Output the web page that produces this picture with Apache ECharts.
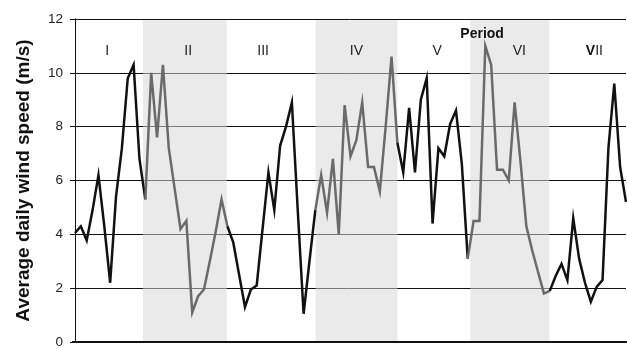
<!DOCTYPE html>
<html>
<head>
<meta charset="utf-8">
<script src="https://cdn.jsdelivr.net/npm/echarts@6/dist/echarts.min.js"></script>
<style>
html,body{margin:0;padding:0;background:#fff;}
#main{width:627px;height:349px;}
</style>
</head>
<body>
<div id="main"></div>
<script>
// Average daily wind speed (m/s), one value per day
const windSpeed = [
  4.05, 4.3, 3.77, 4.9, 6.2, 4.3, 2.2, 5.4, 7.2, 9.8, 10.3, 6.8,
  5.3, 10.0, 7.6, 10.3, 7.2, 5.7, 4.2, 4.5, 1.1, 1.7, 1.95, 3.0, 4.1, 5.3,
  4.3, 3.7, 2.5, 1.3, 1.95, 2.1, 4.2, 6.3, 4.9, 7.3, 8.0, 8.9, 4.9, 1.05, 3.0,
  4.9, 6.2, 4.8, 6.8, 4.0, 8.8, 6.9, 7.5, 8.9, 6.5, 6.5, 5.6, 8.0, 10.6,
  7.4, 6.3, 8.7, 6.3, 9.0, 9.8, 4.4, 7.2, 6.9, 8.1, 8.6, 6.6,
  3.1, 4.5, 4.5, 11.0, 10.3, 6.4, 6.4, 6.0, 8.9, 6.7, 4.3, 3.4, 2.6, 1.8,
  1.9, 2.45, 2.9, 2.3, 4.6, 3.1, 2.2, 1.5, 2.05, 2.3, 7.2, 9.6, 6.5, 5.2
];
// index of the first and last day of each period (shared boundary days)
const periodBreaks = [0, 12, 26, 41, 55, 67, 81, 94];
const periodNames = ['I', 'II', 'III', 'IV', 'V', 'VI', 'VII'];
// shaded periods (II, IV, VI) extents in day units
const shadedBands = [[11.6, 25.9], [41.05, 55.0], [67.45, 80.9]];
const yTicks = [0, 2, 4, 6, 8, 10, 12];

const labelX = [5.5, 19.3, 32.1, 48.0, 61.8, 75.8, 88.6];
const labelY = 10.8;

const chart = echarts.init(document.getElementById('main'), null, {renderer: 'canvas'});

const periodSeries = [];
for (let p = 0; p < periodNames.length; p++) {
  const pts = [];
  for (let i = periodBreaks[p]; i <= periodBreaks[p + 1]; i++) {
    pts.push([i, windSpeed[i]]);
  }
  periodSeries.push({
    type: 'line',
    data: pts,
    symbol: 'none',
    z: 5,
    lineStyle: {width: 2.5, color: p % 2 === 0 ? '#111' : '#6a6a6a', join: 'miter', cap: 'butt'},
    silent: true,
    animation: false
  });
}

const labelData = periodNames.map((n, k) => ({
  coord: [labelX[k], labelY],
  value: n,
  label: {
    formatter: n === 'VII' ? '{b|V}II' : n
  }
}));
labelData.push({
  coord: [69.45, 11.42],
  value: 'Period',
  label: {formatter: 'Period', fontWeight: 'bold', fontSize: 14, color: '#111'}
});

const bandSeries = {
  type: 'line',
  data: [],
  z: 1,
  silent: true,
  animation: false,
  markArea: {
    silent: true,
    itemStyle: {color: 'rgba(214,214,214,0.52)'},
    data: shadedBands.map(b => [{coord: [b[0], 0.04]}, {coord: [b[1], 11.95]}])
  }
};

const labelSeries = {
  type: 'line',
  data: [],
  z: 6,
  silent: true,
  animation: false,
  markPoint: {
    symbol: 'circle',
    symbolSize: 0,
    silent: true,
    animation: false,
    label: {
      show: true,
      position: 'inside',
      color: '#222',
      fontSize: 14,
      fontFamily: 'Liberation Sans, Arial, sans-serif',
      rich: {b: {fontWeight: 'bold', fontSize: 14, color: '#111', fontFamily: 'Liberation Sans, Arial, sans-serif'}}
    },
    data: labelData
  }
};

chart.setOption({
  animation: false,
  textStyle: {fontFamily: 'Liberation Sans, Arial, sans-serif'},
  grid: {left: 73, right: 1, top: 19, bottom: 4, containLabel: false},
  xAxis: [{
    type: 'value',
    min: -0.34,
    max: 94,
    axisLine: {show: true, onZero: false, lineStyle: {color: '#111', width: 2}},
    axisTick: {show: false},
    axisLabel: {show: false},
    splitLine: {show: false}
  }, {
    type: 'value',
    position: 'top',
    min: -0.34,
    max: 94,
    axisLine: {show: true, lineStyle: {color: '#111', width: 2}},
    axisTick: {show: false},
    axisLabel: {show: false},
    splitLine: {show: false}
  }],
  yAxis: [{
    type: 'value',
    min: yTicks[0],
    max: yTicks[yTicks.length - 1],
    interval: 2,
    name: 'Average daily wind speed (m/s)',
    nameLocation: 'middle',
    nameGap: 40,
    nameTextStyle: {fontSize: 19, fontWeight: 'bold', color: '#111', fontFamily: 'Liberation Sans, Arial, sans-serif'},
    axisLine: {show: true, lineStyle: {color: '#111', width: 1}},
    axisTick: {show: true, inside: false, length: 5, lineStyle: {color: '#111'}},
    axisLabel: {fontSize: 13.5, color: '#222', margin: 10},
    splitLine: {show: true, lineStyle: {color: '#111', width: 1}}
  }, {
    type: 'value',
    position: 'right',
    min: 0, max: 12, interval: 2,
    axisLine: {show: true, lineStyle: {color: '#111', width: 1}},
    axisTick: {show: false},
    axisLabel: {show: false},
    splitLine: {show: false}
  }],
  series: [bandSeries].concat(periodSeries).concat([labelSeries])
});
</script>
</body>
</html>
